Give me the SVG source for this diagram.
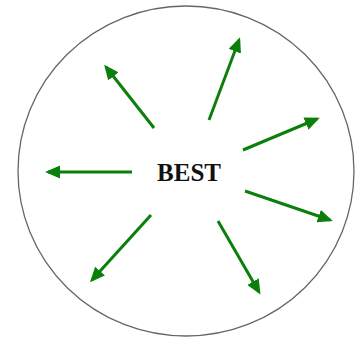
<svg xmlns="http://www.w3.org/2000/svg" width="355" height="337" viewBox="0 0 355 337">
<style>
.arr{stroke:#0a800a;stroke-width:3;fill:none;marker-end:url(#ah)}
.lbl{font-family:"Liberation Serif",serif;font-weight:bold;font-size:25px;fill:#111}
</style>
<defs>
<marker id="ah" markerWidth="5" markerHeight="4.4" refX="4" refY="2.2" orient="auto" markerUnits="strokeWidth">
<path d="M0,0 L5,2.2 L0,4.4 Z" fill="#0a800a"/>
</marker>
</defs>
<rect width="355" height="337" fill="#fff"/>
<g id="boundary">
<ellipse cx="186" cy="171" rx="168" ry="165" fill="none" stroke="#666" stroke-width="1.3"/>
</g>
<g id="best">
<text class="lbl" x="189" y="181" text-anchor="middle">BEST</text>
</g>
<g id="connectors">
<line class="arr" x1="154" y1="128" x2="106" y2="67"/>
<line class="arr" x1="209" y1="120" x2="239" y2="40"/>
<line class="arr" x1="243" y1="150" x2="317" y2="119"/>
<line class="arr" x1="132" y1="172" x2="48" y2="172"/>
<line class="arr" x1="245" y1="191" x2="330" y2="220"/>
<line class="arr" x1="151" y1="215" x2="92" y2="280"/>
<line class="arr" x1="218" y1="221" x2="259" y2="292"/>
</g>
</svg>
